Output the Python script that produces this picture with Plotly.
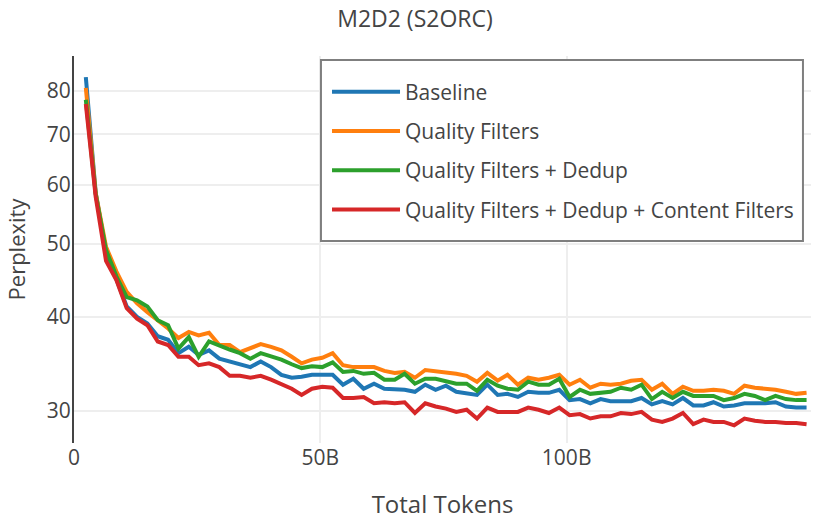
import plotly.graph_objects as go

# Total tokens (billions)
tokens = [2.4, 4.4, 6.5, 8.6, 10.7, 12.8, 14.9, 17.0, 19.1, 21.2,
          23.3, 25.3, 27.4, 29.5, 31.6, 33.7, 35.8, 37.9, 40.0, 42.1,
          44.2, 46.2, 48.3, 50.4, 52.5, 54.6, 56.7, 58.8, 60.9, 63.0,
          65.1, 67.1, 69.2, 71.3, 73.4, 75.5, 77.6, 79.7, 81.8, 83.9,
          86.0, 88.0, 90.1, 92.2, 94.3, 96.4, 98.5, 100.6, 102.7, 104.8,
          106.9, 108.9, 111.0, 113.1, 115.2, 117.3, 119.4, 121.5, 123.6, 125.7,
          127.8, 129.8, 131.9, 134.0, 136.1, 138.2, 140.3, 142.4, 144.5, 146.6,
          148.7]

baseline = [83.4, 58.5, 48.8, 44.8, 41.3, 40.0, 39.2, 37.7, 37.3, 35.8,
            36.5, 35.6, 36.1, 35.2, 34.9, 34.7, 34.3, 34.9, 34.3, 33.5,
            33.2, 33.3, 33.5, 33.5, 33.5, 32.5, 33.1, 32.1, 32.6, 32.1,
            32.0, 32.0, 31.8, 32.5, 32.0, 32.4, 31.8, 31.6, 31.5, 32.5,
            31.5, 31.6, 31.3, 31.8, 31.7, 31.7, 32.0, 31.0, 31.1, 30.7,
            31.1, 30.9, 30.9, 30.9, 31.2, 30.6, 30.9, 30.6, 31.2, 30.5,
            30.5, 30.8, 30.4, 30.5, 30.7, 30.7, 30.7, 30.8, 30.4, 30.3,
            30.3]

quality = [80.7, 58.5, 49.6, 46.0, 43.2, 41.7, 40.6, 39.6, 38.6, 37.5,
           38.2, 37.8, 38.1, 36.7, 36.7, 35.9, 36.4, 36.8, 36.5, 36.1,
           35.4, 34.7, 35.1, 35.3, 35.8, 34.5, 34.3, 34.3, 34.3, 33.9,
           33.7, 33.8, 33.2, 34.0, 33.9, 33.7, 33.6, 33.4, 32.8, 33.7,
           32.9, 33.5, 32.5, 33.2, 33.0, 33.2, 33.5, 32.5, 33.0, 32.2,
           32.6, 32.5, 32.6, 32.9, 33.0, 32.0, 32.6, 31.6, 32.3, 31.9,
           31.9, 32.0, 31.9, 31.6, 32.4, 32.2, 32.1, 32.0, 31.8, 31.6,
           31.7]

quality_dedup = [77.8, 58.3, 49.1, 45.3, 42.5, 42.1, 41.3, 39.6, 39.0, 36.3,
                 37.6, 35.4, 37.1, 36.6, 36.2, 35.8, 35.2, 35.8, 35.5, 35.1,
                 34.6, 34.2, 34.4, 34.3, 34.8, 33.8, 33.9, 33.6, 33.7, 33.0,
                 33.0, 33.6, 32.6, 33.1, 33.1, 32.9, 32.6, 32.6, 31.9, 33.0,
                 32.4, 32.1, 32.0, 32.8, 32.5, 32.5, 33.1, 31.3, 32.0, 31.6,
                 31.7, 31.8, 32.2, 32.0, 32.5, 31.1, 31.8, 31.2, 31.8, 31.4,
                 31.4, 31.4, 31.0, 31.2, 31.6, 31.4, 31.0, 31.4, 31.1, 31.0,
                 31.0]

quality_dedup_content = [76.8, 57.8, 47.5, 44.8, 41.1, 39.8, 39.0, 37.1, 36.7, 35.4,
                         35.4, 34.5, 34.7, 34.3, 33.4, 33.4, 33.2, 33.4, 33.0, 32.5,
                         32.1, 31.5, 32.1, 32.3, 32.2, 31.2, 31.2, 31.3, 30.7, 30.8,
                         30.7, 30.8, 29.8, 30.7, 30.4, 30.2, 29.9, 30.1, 29.3, 30.3,
                         29.9, 29.9, 29.9, 30.3, 30.1, 29.8, 30.3, 29.6, 29.7, 29.3,
                         29.5, 29.5, 29.8, 29.7, 29.9, 29.2, 29.0, 29.3, 29.8, 28.8,
                         29.2, 29.0, 29.0, 28.7, 29.3, 29.1, 29.0, 29.0, 28.9, 28.9,
                         28.8]

series_names = ["Baseline", "Quality Filters", "Quality Filters + Dedup",
                "Quality Filters + Dedup + Content Filters"]
series_values = [baseline, quality, quality_dedup, quality_dedup_content]
colors = ["#1f77b4", "#ff7f0e", "#2ca02c", "#d62728"]

x_tickvals = [0, 50, 100]
x_ticktext = ["0", "50B", "100B"]
y_tickvals = [30, 40, 50, 60, 70, 80]

FONT = "Open Sans"

fig = go.Figure()
for name, vals, col in zip(series_names, series_values, colors):
    fig.add_trace(go.Scatter(x=tokens, y=vals, mode="lines", name=name,
                             legendgroup=name,
                             line=dict(color=col, width=4)))

fig.update_layout(
    width=830, height=520,
    margin=dict(l=74, r=19, t=56, b=77, autoexpand=False),
    paper_bgcolor="white", plot_bgcolor="white",
    font=dict(family=FONT, size=21, color="#444"),
    title=dict(text="M2D2 (S2ORC)", x=0.5, xanchor="center",
               y=0.963, yanchor="middle", font=dict(size=23, color="#444")),
    showlegend=True,
    legend=dict(x=0.3433, y=0.96, xanchor="left", yanchor="top",
                bgcolor="rgba(0,0,0,0)", borderwidth=0,
                font=dict(size=21, color="#444"),
                tracegroupgap=9, itemwidth=68, traceorder="grouped"),
    shapes=[dict(type="rect", xref="paper", yref="paper",
                 x0=0.3351, x1=0.9891, y0=0.522, y1=0.9897,
                 line=dict(color="#7f7f7f", width=2), fillcolor="white",
                 layer="above")],
)

fig.update_xaxes(range=[0, 149.6], tickvals=x_tickvals, ticktext=x_ticktext,
                 showgrid=True, gridcolor="#eeeeee", gridwidth=2,
                 showline=False, zeroline=False, ticks="", automargin=False,
                 tickfont=dict(size=21),
                 title=dict(text="Total Tokens", font=dict(size=24), standoff=28))
fig.update_yaxes(type="log", range=[1.4343, 1.9493], tickvals=y_tickvals,
                 showgrid=True, gridcolor="#eeeeee", gridwidth=2,
                 showline=True, linecolor="#444", linewidth=2,
                 zeroline=False, ticks="", automargin=False,
                 tickfont=dict(size=21), ticklabelstandoff=-3,
                 title=dict(text="Perplexity", font=dict(size=22)))

fig.write_html("out.html",
               config={"displayModeBar": False},
               post_script="document.body.style.margin='0';document.body.style.padding='0';")
